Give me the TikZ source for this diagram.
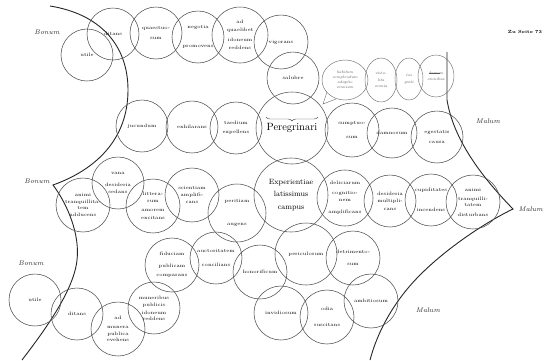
\documentclass[tikz,border=0pt]{standalone}
\usetikzlibrary{decorations.pathreplacing,shapes.geometric}
\begin{document}
\begin{tikzpicture}[x=1pt,y=-1pt,
  circ/.style={circle, draw=black!68, line width=0.55pt, inner sep=0pt, align=center,
     font=\fontsize{4.9}{7.5}\selectfont},
  bigtxt/.style={font=\fontsize{7.6}{12.5}\selectfont},
  hand/.style={ellipse, draw=black!55, line width=0.45pt, inner sep=0pt, align=center,
     font=\fontsize{4}{6.5}\selectfont\itshape, text=black!65},
  bound/.style={line width=0.9pt, draw=black!85},
  lab/.style={font=\fontsize{6.8}{7}\selectfont\itshape, text=black!85}]
\useasboundingbox (0,0) rectangle (544,360);
\fill[white] (0,0) rectangle (544,360);

% boundaries
\draw[bound] (50,6) .. controls (100,14) and (128,45) .. (128,90)
   .. controls (128,140) and (95,170) .. (53,185)
   .. controls (68,205) and (80,235) .. (77,260)
   .. controls (74,290) and (45,330) .. (22,360);
\draw[bound] (447,52) -- (447,100) .. controls (452,130) and (470,165) .. (513,209)
   .. controls (490,220) and (450,245) .. (420,275)
   .. controls (395,300) and (378,330) .. (370,360);

% labels
\node[lab] (bonum1) at (47,32) {Bonum};
\node[lab] (bonum2) at (37,181) {Bonum};
\node[lab] (bonum3) at (31,263) {Bonum};
\node[lab] (malum1) at (488,121) {Malum};
\node[lab, anchor=east, inner sep=1pt] (malum2) at (544,209) {Malum};
\node[lab] (malum3) at (428,310) {Malum};
\node[font=\fontsize{4.5}{5}\selectfont\bfseries] (seite) at (525,32) {Zu Seite 73};

% top row
\node[circ, minimum size=52] (utileA) at (87,55) {utile};
\node[circ, minimum size=52] (ditansA) at (113,34) {ditans};
\node[circ, minimum size=52] (quaest) at (156,33) {quaestuo-\\[2pt]sum};
\node[circ, minimum size=52] (negotia) at (198,37) {negotia\\[12pt]promovens};
\node[circ, minimum size=56] (quaelibet) at (240,35) {ad\\quaelibet\\[3pt]idoneum\\reddens};
\node[circ, minimum size=54] (vigorans) at (281,42) {vigorans};
\node[circ, minimum size=52] (salubre) at (293,78) {salubre};

% handwritten ellipses
\node[hand, minimum width=46, minimum height=40] (h1) at (345,80)
   {habitum\\[-1.5pt]complendum\\[-1.5pt]adaptio\\[-1.5pt]omnium};
\draw[draw=black!55, line width=0.45pt] (327,92) -- (323,104) -- (336,99);
\node[hand, minimum width=32, minimum height=44] (h2) at (381,80) {visto-\\lita\\omnia};
\node[hand, minimum width=28, minimum height=42] (h3) at (409,79) {ins\\grati};
\node[hand, minimum width=36, minimum height=42] (h4) at (436,76)
   {{\rlap{\rule[1.2pt]{11pt}{0.35pt}}domum}\\omnibus};

% second row
\node[circ, minimum size=52] (jucundum) at (142,126) {jucundum};
\node[circ, minimum size=52] (exhil) at (192,127) {exhilarans};
\node[circ, minimum size=52] (taedium) at (236,128) {taedium\\[2pt]expellens};
\node[circ, minimum size=72, font=\fontsize{10.5}{12}\selectfont] (peregr) at (292,128) {Peregrinari};
\draw[line width=0.45pt, black!70, decorate, decoration={brace, mirror, amplitude=4pt}]
   ([xshift=-26pt,yshift=11pt]peregr.center) -- ([xshift=26pt,yshift=11pt]peregr.center);
\node[circ, minimum size=54] (sumpt) at (352,130) {sumptuo-\\[6pt]sum};
\node[circ, minimum size=50] (damnosum) at (392,133) {damnosum};
\node[circ, minimum size=52] (egestatis) at (437,137) {egestatis\\[3pt]causa};

% third row
\node[circ, minimum size=54] (animiA) at (83,205) {animi\\[-1pt]tranquillita-\\[-1pt]tem\\[-1pt]adducens};
\node[circ, minimum size=52] (vana) at (118,183) {vana\\[4pt]desideria\\sedans};
\node[circ, minimum size=54] (litter) at (153,206) {littera-\\rum\\[1pt]amorem\\[1pt]excitans};
\node[circ, minimum size=54] (scient) at (192,195) {scientiam\\[-0.5pt]amplifi-\\[-0.5pt]cans};
\node[circ, minimum size=58] (peritiam) at (237,213) {peritiam\\[15pt]augens};
\node[circ, minimum size=74, bigtxt] (exper) at (291,195) {Experientiae\\latissimus\\campus};
\node[circ, minimum size=56] (delic) at (345,198) {deliciarum\\[2pt]cognitio-\\nem\\[4pt]amplificans};
\node[circ, minimum size=52] (desid) at (390,201) {desideria\\multipli-\\cans};
\node[circ, minimum size=52] (cupid) at (431,200) {cupiditates\\[12pt]incendens};
\node[circ, minimum size=54] (animiB) at (473,202) {animi\\[2pt]tranquilli-\\[-1.5pt]tatem\\[2pt]disturbans};

% fourth row
\node[circ, minimum size=54] (fiducia) at (172,265) {fiduciam\\[4pt]publicam\\[2pt]comparans};
\node[circ, minimum size=52] (auctor) at (216,258) {auctoritatem\\[7pt]concilians};
\node[circ, minimum size=54] (honor) at (260,272) {honorificum};
\node[circ, minimum size=62] (pericul) at (306,254) {periculosum};
\node[circ, minimum size=54] (detrim) at (353,258) {detrimento-\\[4pt]sum};
\node[circ, minimum size=54] (ambit) at (371,301) {ambitiosum};
\node[circ, minimum size=54] (invid) at (281,313) {invidiosum};
\node[circ, minimum size=54] (odia) at (327,317) {odia\\[9pt]suscitans};

% bottom left group
\node[circ, minimum size=52] (utileB) at (35,300) {utile};
\node[circ, minimum size=52] (ditansB) at (77,314) {ditans};
\node[circ, minimum size=54] (munera) at (118,329) {ad\\[2pt]munera\\[-1pt]publica\\[-1pt]evehens};
\node[circ, minimum size=52] (munerib) at (154,308) {muneribus\\publicis\\idoneum\\[-1.5pt]reddens};
\end{tikzpicture}
\end{document}
